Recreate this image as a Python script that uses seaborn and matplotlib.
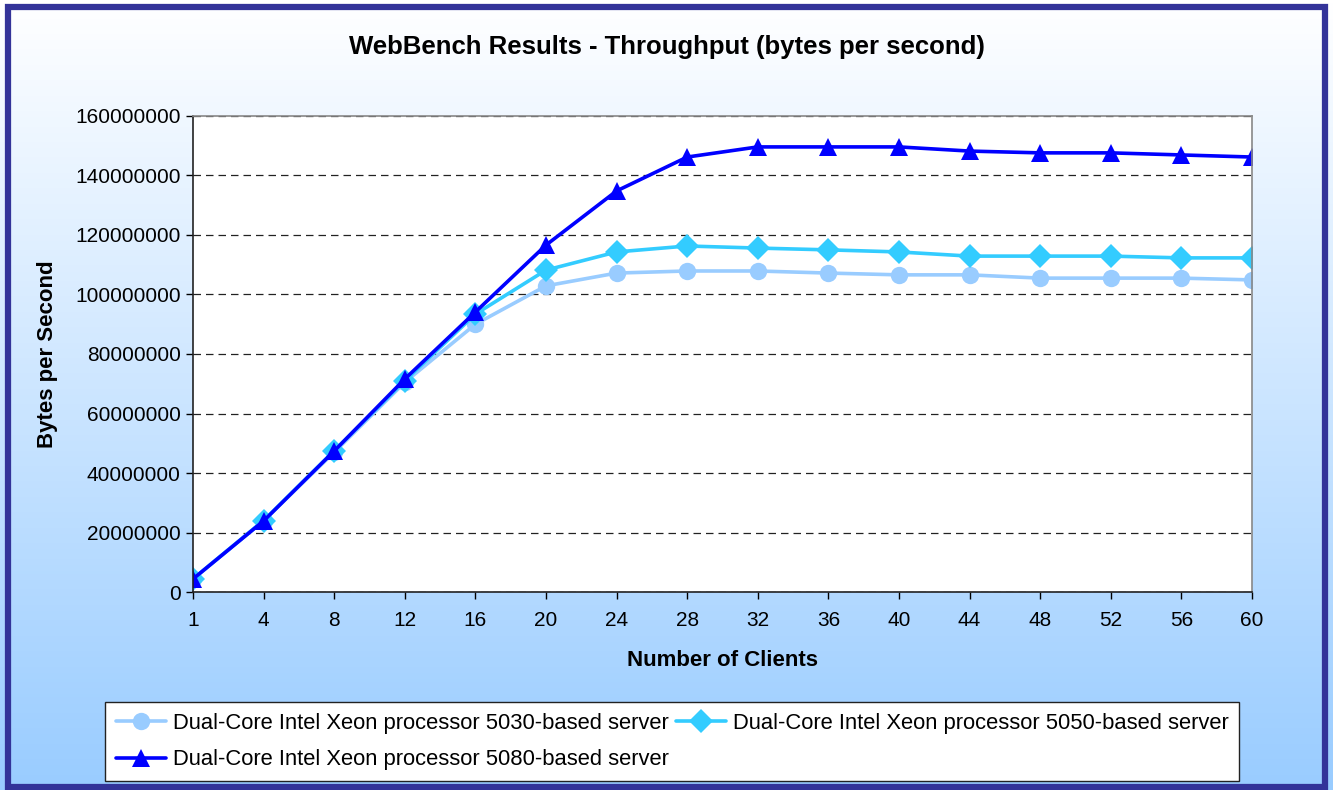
import numpy as np
import pandas as pd
import matplotlib
matplotlib.use("Agg")
import matplotlib.pyplot as plt
from matplotlib.patches import Rectangle
import seaborn as sns

clients = ["1", "4", "8", "12", "16", "20", "24", "28", "32", "36", "40", "44", "48", "52", "56", "60"]
s5030 = [4.4e6, 24.0e6, 47.0e6, 70.5e6, 90.0e6, 102.9e6, 107.2e6, 107.9e6, 107.9e6, 107.2e6,
         106.6e6, 106.6e6, 105.5e6, 105.5e6, 105.5e6, 104.9e6]
s5050 = [4.4e6, 24.0e6, 47.5e6, 71.0e6, 93.4e6, 108.2e6, 114.3e6, 116.3e6, 115.6e6, 115.0e6,
         114.3e6, 112.9e6, 112.9e6, 112.9e6, 112.3e6, 112.3e6]
s5080 = [4.4e6, 23.9e6, 47.4e6, 71.6e6, 94.1e6, 116.6e6, 134.8e6, 146.2e6, 149.6e6, 149.6e6,
         149.6e6, 148.2e6, 147.6e6, 147.6e6, 146.9e6, 146.2e6]
names = ["Dual-Core Intel Xeon processor 5030-based server",
         "Dual-Core Intel Xeon processor 5050-based server",
         "Dual-Core Intel Xeon processor 5080-based server"]
colors = ["#99CCFF", "#33CCFF", "#0000FF"]
markers = ["o", "D", "^"]

rows = []
for name, vals in zip(names, [s5030, s5050, s5080]):
    for c, v in zip(clients, vals):
        rows.append({"clients": c, "bytes": v, "server": name})
df = pd.DataFrame(rows)

sns.set_style("white")
plt.rcParams["font.family"] = ["Liberation Sans", "DejaVu Sans"]
plt.rcParams["text.color"] = "black"
plt.rcParams["axes.labelcolor"] = "black"

fig = plt.figure(figsize=(13.33, 7.9), dpi=100)

# gradient background
bg = fig.add_axes([0, 0, 1, 1], zorder=-10)
grad = np.linspace(0, 1, 256).reshape(-1, 1)
cmap = matplotlib.colors.LinearSegmentedColormap.from_list("bg", ["#FFFFFF", "#99CCFF"])
bg.imshow(grad, aspect="auto", cmap=cmap, extent=[0, 1, 0, 1], origin="upper")
bg.set_axis_off()
fig.patches.append(Rectangle((0.0058, 0.0035), 0.9885, 0.9875, transform=fig.transFigure,
                             fill=False, edgecolor="#333399", linewidth=4.5, zorder=10))

ax = fig.add_axes([0.1448, 0.2506, 0.7944, 0.6026])
ax.set_facecolor("white")
sns.lineplot(data=df, x="clients", y="bytes", hue="server", style="server",
             palette=colors, markers=markers, dashes=False, sort=False,
             linewidth=2.6, markersize=12.5, markeredgewidth=0, ax=ax)

ax.set_xlim(0, len(clients) - 1)
ax.set_ylim(0, 160000000)
ax.set_yticks(np.arange(0, 160000001, 20000000))
ax.yaxis.set_major_formatter(matplotlib.ticker.FuncFormatter(lambda v, p: "%d" % v))
ax.yaxis.grid(True, linestyle=(0, (6, 4)), color="#222222", linewidth=0.9)
ax.tick_params(axis="both", direction="out", length=5, width=1, labelsize=15, colors="black",
               left=True, bottom=True, pad=4)
ax.tick_params(axis="x", pad=9)
for side in ["left", "bottom"]:
    ax.spines[side].set_color("#222222")
    ax.spines[side].set_linewidth(1.2)
for side in ["top", "right"]:
    ax.spines[side].set_color("#888888")
    ax.spines[side].set_linewidth(1.2)

ax.set_xlabel("Number of Clients", fontsize=16, fontweight="bold", labelpad=14)
ax.set_ylabel("Bytes per Second", fontsize=16, fontweight="bold", labelpad=12)
fig.text(0.5, 0.9405, "WebBench Results - Throughput (bytes per second)", ha="center",
         va="center", fontsize=18.5, fontweight="bold")

handles, labels = ax.get_legend_handles_labels()
ax.get_legend().remove()
order = [0, 2, 1]
leg = fig.legend([handles[i] for i in order], [labels[i] for i in order], ncol=2,
                 loc="upper left", bbox_to_anchor=(0.0788, 0.1114),
                 fontsize=15.8, frameon=True, fancybox=False, edgecolor="#222222",
                 facecolor="white", framealpha=1, handlelength=2.3, handletextpad=0.3,
                 columnspacing=0.3, borderaxespad=0, labelspacing=0.7, borderpad=0.5)
leg.get_frame().set_linewidth(1.0)

fig.savefig("out.png", dpi=100)
